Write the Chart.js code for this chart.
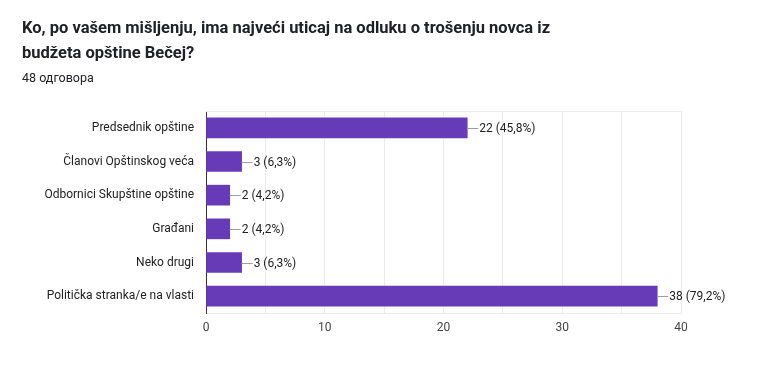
<!DOCTYPE html>
<html>
<head>
<meta charset="utf-8">
<script src="https://cdn.jsdelivr.net/npm/chart.js@4.4.1/dist/chart.umd.min.js"></script>
<style>
  html, body { margin: 0; padding: 0; background: #fff; }
  body { width: 762px; height: 366px; position: relative; overflow: hidden; font-family: Roboto, sans-serif; }
  #title { position: absolute; left: 22px; top: 15px; font-size: 16.5px; font-weight: 700; color: #202124; line-height: 25px; letter-spacing: 0px; }
  #sub { position: absolute; left: 22px; top: 70px; font-size: 12.5px; color: #202124; }
  #wrap { position: absolute; left: 0; top: 0; width: 762px; height: 366px; }
</style>
</head>
<body>
<div id="wrap"><canvas id="chart"></canvas></div>
<div id="title">Ko, po vašem mišljenju, ima najveći uticaj na odluku o trošenju novca iz<br>budžeta opštine Bečej?</div>
<div id="sub">48 одговора</div>
<script>
const categories = [
  "Predsednik opštine",
  "Članovi Opštinskog veća",
  "Odbornici Skupštine opštine",
  "Građani",
  "Neko drugi",
  "Politička stranka/e na vlasti",
];
const counts = [22, 3, 2, 2, 3, 38];
const respondents = 48;
const xTicks = [0, 10, 20, 30, 40];

const pct = v => (v / respondents * 100).toFixed(1).replace(".", ",");

const barLabels = {
  id: "barLabels",
  afterDatasetsDraw(chart) {
    const ctx = chart.ctx;
    const meta = chart.getDatasetMeta(0);
    ctx.save();
    ctx.font = "12px Roboto, sans-serif";
    ctx.textBaseline = "middle";
    ctx.textAlign = "left";
    meta.data.forEach((bar, i) => {
      ctx.strokeStyle = "#9e9e9e";
      ctx.lineWidth = 1;
      ctx.beginPath();
      ctx.moveTo(bar.x, Math.round(bar.y) + 0.5);
      ctx.lineTo(bar.x + 11, Math.round(bar.y) + 0.5);
      ctx.stroke();
      ctx.fillStyle = "#222";
      ctx.fillText(`${counts[i]} (${pct(counts[i])}%)`, bar.x + 12, bar.y + 1);
    });
    ctx.restore();
  },
  beforeDatasetsDraw(chart) {
    const { ctx, chartArea: a } = chart;
    ctx.save();
    ctx.strokeStyle = "#eeeeee";
    ctx.lineWidth = 1;
    ctx.beginPath();
    ctx.moveTo(a.left, a.top + 0.5);
    ctx.lineTo(a.right, a.top + 0.5);
    ctx.stroke();
    ctx.restore();
  },
};

new Chart(document.getElementById("chart"), {
  type: "bar",
  data: {
    labels: categories,
    datasets: [{
      data: counts,
      backgroundColor: "#673ab7",
      barThickness: 20,
    }],
  },
  options: {
    indexAxis: "y",
    responsive: true,
    maintainAspectRatio: false,
    animation: false,
    layout: { padding: { top: 111, right: 81, bottom: 0, left: 0 } },
    plugins: { legend: { display: false }, tooltip: { enabled: false } },
    scales: {
      x: {
        min: 0,
        max: 40,
        afterFit: s => { s.height = 53; },
        afterBuildTicks: s => { s.ticks = [0, 5, 10, 15, 20, 25, 30, 35, 40].map(v => ({ value: v })); },
        ticks: {
          padding: 8,
          color: "#444",
          font: { family: "Roboto, sans-serif", size: 12 },
          callback: v => (xTicks.includes(v) ? v : ""),
        },
        grid: { color: "#ebebeb", drawTicks: false },
        border: { color: "#ebebeb" },
      },
      y: {
        afterFit: s => { s.width = 206; },
        ticks: {
          padding: 12,
          color: "#222",
          font: { family: "Roboto, sans-serif", size: 12 },
        },
        grid: { display: false, drawTicks: false },
        border: { color: "#333", width: 1 },
      },
    },
  },
  plugins: [barLabels],
});
</script>
</body>
</html>
